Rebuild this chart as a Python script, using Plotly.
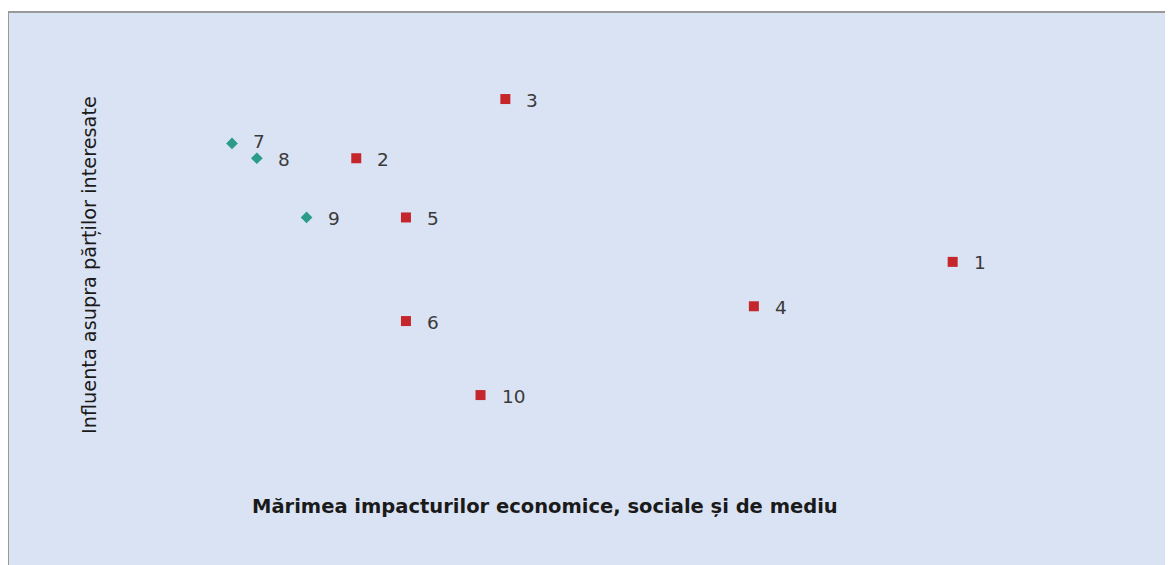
import plotly.graph_objects as go

# data
red_labels = ["1", "2", "3", "4", "5", "6", "10"]
red_x = [15.5, 3.5, 6.5, 11.5, 4.5, 4.5, 6.0]
red_y = [9, 16, 20, 6, 12, 5, 0]

teal_labels = ["7", "8", "9"]
teal_x = [1.0, 1.5, 2.5]
teal_y = [17, 16, 12]

x_title = "Mărimea impacturilor economice, sociale și de mediu"
y_title = "Influenta asupra părților interesate"

BLUE = "#dae3f3"

fig = go.Figure()
fig.add_trace(go.Scatter(x=red_x, y=red_y, mode="markers",
                         marker=dict(symbol="square", size=10, color="#c4262b"),
                         hoverinfo="text", text=red_labels, showlegend=False))
fig.add_trace(go.Scatter(x=teal_x, y=teal_y, mode="markers",
                         marker=dict(symbol="diamond", size=9, color="#2a9c88"),
                         hoverinfo="text", text=teal_labels, showlegend=False))

FONT = "DejaVu Sans, Verdana, sans-serif"
annotations = []
label_font = dict(family=FONT, size=18.5, color="#3a3a3a")
for lab, x, y in zip(red_labels + teal_labels, red_x + teal_x, red_y + teal_y):
    yshift = 2 if lab == "7" else -1
    annotations.append(dict(x=x, y=y, text=lab, showarrow=False, xref="x", yref="y",
                            xanchor="left", yanchor="middle", xshift=19, yshift=yshift,
                            font=label_font))

annotations.append(dict(x=545, y=506, xref="paper", yref="paper", text="<b>" + x_title + "</b>",
                        xanchor="center", yanchor="middle",
                        showarrow=False, font=dict(family=FONT, size=19.5, color="#1a1a1a")))
annotations.append(dict(x=89, y=265, xref="paper", yref="paper", text=y_title, textangle=-90,
                        xanchor="center", yanchor="middle",
                        showarrow=False, font=dict(family=FONT, size=19.3, color="#1a1a1a")))

# figure sits at (8, 8) on the page because of the default body margin
W, H = 1165, 557
OFF = 8
T = 4
pw, ph = W, H - T
for a in annotations:
    if a["xref"] == "paper":
        a["x"] = (a["x"] - OFF) / pw
        a["y"] = 1 - (a["y"] - OFF - T) / ph

fig.update_layout(
    width=W, height=H,
    margin=dict(l=0, r=0, t=T, b=0, pad=0),
    paper_bgcolor=BLUE,
    plot_bgcolor=BLUE,
    xaxis=dict(range=[-3.507, 19.933], visible=False, fixedrange=True),
    yaxis=dict(range=[-11.48, 25.88], visible=False, fixedrange=True),
    annotations=annotations,
    shapes=[
        dict(type="rect", xref="paper", yref="paper", x0=-0.01, x1=1.02, y0=1, y1=1 + T / ph + 0.01,
             fillcolor="white", line=dict(width=0), layer="below"),
        dict(type="line", xref="paper", yref="paper", x0=0, x1=1.02, y0=1, y1=1,
             line=dict(color="#9a9a9a", width=2)),
        dict(type="line", xref="paper", yref="paper", x0=0, x1=0, y0=-0.02, y1=1,
             line=dict(color="#9a9a9a", width=2)),
    ],
)

fig.write_html("out.html")
